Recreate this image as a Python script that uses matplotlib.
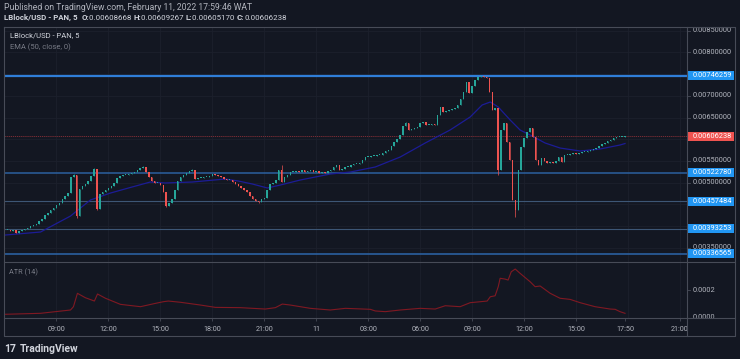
import numpy as np
import matplotlib
matplotlib.use('Agg')
import matplotlib.pyplot as plt
import matplotlib.transforms as mtransforms
from matplotlib.lines import Line2D
from matplotlib.patches import Rectangle

plt.rcParams['font.family'] = ['Roboto', 'DejaVu Sans']

#
#   data (prices in units of 1e-5 USD, 10 min bars from Feb 10 06:00)
#
close = [
    390.8, 390.8, 388.5, 390.8, 383.9, 388.5, 390.8, 393.1, 395.4, 400.0,
    402.3, 404.6, 411.5, 416.1, 425.4, 430.0, 436.9, 441.5, 448.4, 453.0,
    462.2, 469.1, 476.0, 512.9, 517.5, 423.1, 485.3, 492.2, 496.8, 503.7,
    515.2, 531.4, 439.2, 473.7, 478.3, 483.0, 487.6, 492.2, 499.1, 510.6,
    515.2, 517.5, 517.5, 519.8, 522.1, 524.4, 529.1, 533.7, 536.0, 524.4,
    512.9, 503.7, 499.1, 499.1, 494.5, 478.3, 446.1, 453.0, 462.2, 483.0,
    503.7, 512.9, 517.5, 522.1, 526.7, 529.1, 508.3, 510.6, 510.6, 512.9,
    512.9, 515.2, 519.8, 517.5, 515.2, 512.9, 508.3, 506.0, 506.0, 501.4,
    496.8, 492.2, 487.6, 483.0, 478.3, 469.1, 462.2, 457.6, 455.3, 462.2,
    464.5, 483.0, 496.8, 499.1, 506.0, 529.1, 501.4, 512.9, 517.5, 524.4,
    524.4, 526.7, 524.4, 529.1, 524.4, 526.7, 529.1, 524.4, 526.7, 522.1,
    524.4, 522.1, 526.7, 529.1, 536.0, 540.6, 529.1, 531.4, 536.0, 536.0,
    540.6, 542.9, 542.9, 545.2, 552.1, 559.0, 559.0, 561.3, 561.3, 563.6,
    563.6, 568.2, 572.8, 575.1, 584.3, 593.5, 600.5, 609.7, 630.4, 637.3,
    621.2, 623.5, 625.8, 628.1, 637.3, 639.6, 632.7, 632.7, 635.0, 632.7,
    655.7, 674.2, 662.7, 665.0, 667.3, 669.6, 671.9, 678.8, 692.6, 708.9,
    731.8, 706.5, 722.6, 736.4, 743.3, 745.0, 744.0, 741.0, 708.9, 667.3,
    671.9, 529.1, 621.2, 637.3, 593.5, 552.1, 459.9, 436.9, 530.0, 582.0,
    602.8, 616.6, 625.8, 605.1, 552.1, 540.6, 556.7, 549.8, 545.2, 547.5,
    545.2, 549.8, 559.0, 547.5, 563.6, 563.6, 565.9, 568.2, 565.9, 568.2,
    570.5, 570.5, 572.8, 575.1, 577.4, 579.7, 584.3, 588.9, 591.2, 595.8,
    598.2, 602.8, 605.1, 605.1, 605.1, 606.238,
]
first_open = 391.0
# visible wicks (bar index: price)
wick_hi = {24: 519.5, 31: 533.5, 48: 538.0, 65: 531.0, 96: 540.6, 139: 639.5,
           166: 746.259, 183: 626.5}
wick_lo = {4: 383.0, 25: 418.5, 32: 437.0, 56: 444.0, 88: 452.5, 171: 517.5,
           177: 421.0}

# EMA(50) line (hours, 1e-5)
ema_t = [6.06, 8.08, 9.81, 10.96, 12.12, 13.16, 14.42, 15.29, 16.85, 18.75,
         19.50, 20.31, 21.18, 21.93, 23.08, 24.81, 25.97, 27.41, 28.85, 30.29,
         31.73, 32.89, 33.58, 34.05, 34.51, 35.20, 35.77, 36.35, 37.22, 38.08,
         39.24, 40.39, 41.54, 41.83]
ema_v = [379.3, 386.2, 423.0, 459.9, 476.0, 487.6, 501.4, 499.1, 501.4, 508.3,
         503.7, 496.8, 487.6, 494.5, 506.0, 519.8, 524.4, 536.0, 559.0, 591.2,
         621.2, 651.2, 678.8, 685.7, 674.2, 644.2, 621.2, 609.7, 591.2, 579.7,
         572.8, 577.4, 586.6, 590.0]

levels = [0.00746259, 0.00522780, 0.00457484, 0.00393253, 0.00336565]
last_price = 0.00606238

# ATR(14), hours after Feb 10 00:00 and values in 1e-5
atr_t = [6.06, 8.08, 9.81, 9.98, 10.21, 10.67, 11.19, 11.37, 11.83, 12.69,
         13.85, 14.71, 15.17, 15.46, 16.16, 17.31, 18.18, 19.62, 21.06, 21.64,
         22.04, 22.50, 23.66, 24.81, 25.68, 27.12, 27.41, 27.99, 28.85, 30.00,
         30.87, 31.45, 32.31, 32.89, 33.47, 33.87, 34.05, 34.33, 34.51, 34.62,
         34.91, 35.08, 35.26, 35.49, 35.77, 36.35, 36.64, 36.93, 37.51, 38.08,
         38.66, 39.24, 40.10, 40.97, 41.26, 41.54, 41.83]
atr_v = [2.5, 3.2, 5.6, 8.0, 17.7, 14.5, 12.1, 17.2, 14.1, 9.7,
         8.0, 10.4, 11.6, 12.1, 11.2, 9.2, 7.5, 7.3, 6.3, 7.3,
         9.9, 9.2, 6.8, 5.6, 6.8, 6.1, 4.9, 4.4, 5.6, 6.8,
         6.3, 8.7, 8.0, 10.9, 11.6, 12.1, 15.2, 15.9, 22.5, 28.6,
         28.0, 27.3, 33.3, 35.3, 32.2, 26.1, 22.5, 23.0, 17.7, 14.1,
         13.3, 10.9, 8.0, 6.3, 6.1, 4.4, 3.2]

time_ticks = [9, 12, 15, 18, 21, 24, 27, 30, 33, 36, 39, 41.83, 45]
time_labels = ['09:00', '12:00', '15:00', '18:00', '21:00', '11', '03:00',
               '06:00', '09:00', '12:00', '15:00', '17:50', '21:00']
price_grid = [0.0035, 0.0040, 0.0045, 0.0050, 0.0055, 0.0060, 0.0065,
              0.0070, 0.0075, 0.0080, 0.0085]
# the others sit under the level boxes
price_labels = [0.0035, 0.0050, 0.0055, 0.0065, 0.0070, 0.0080, 0.0085]

#
#   colours
#
BG = '#131722'
GRID = '#1c202c'
FRAME = '#474b57'
TXT = '#b2b5be'
UP = '#26a69a'
DN = '#ef5350'
BOX = '#2196f3'

c = np.array(close) * 1e-5
o = np.concatenate([[first_open * 1e-5], c[:-1]])
hi = np.maximum(o, c)
lo = np.minimum(o, c)
for k, v in wick_hi.items():
    hi[k] = v * 1e-5
for k, v in wick_lo.items():
    lo[k] = v * 1e-5
t = 6.0 + np.arange(len(c)) / 6.0

W, H = 740, 359
def fx(px):
    return px / W
def fy(py):
    return 1 - py / H

fig = plt.figure(figsize=(7.4, 3.59), dpi=100, facecolor=BG)
ax = fig.add_axes([fx(4), fy(262), fx(687) - fx(4), fy(27) - fy(262)])
ax2 = fig.add_axes([fx(4), fy(318), fx(687) - fx(4), fy(262) - fy(318)], sharex=ax)
axc = fig.add_axes([fx(687), fy(336), fx(735) - fx(687), fy(27) - fy(336)])
axc.set_zorder(5)

for a in (ax, ax2, axc):
    a.set_facecolor(BG)
    for s in a.spines.values():
        s.set_visible(False)
axc.set_xticks([])
axc.set_yticks([])
axc.set_xlim(0, 1)
axc.set_ylim(0, 1)

# main pane
ax.set_xlim(5.97, 45.41)
ax.set_ylim(0.003171, 0.008585)
ax.set_yticks([])
ax.tick_params(axis='x', bottom=False, labelbottom=False)
for x in range(9, 46, 3):
    ax.axvline(x, color=GRID, lw=0.6, zorder=0)
    ax2.axvline(x, color=GRID, lw=0.6, zorder=0)
for p in price_grid:
    ax.axhline(p, color=GRID, lw=0.6, zorder=0)

ax.axhline(levels[0], color='#2f7ed8', lw=1.6, zorder=1)
ax.axhline(levels[1], color='#2b609f', lw=1.1, zorder=1)
ax.axhline(levels[2], color='#3d5675', lw=0.8, zorder=1)
ax.axhline(levels[3], color='#3d5675', lw=0.8, zorder=1)
ax.axhline(levels[4], color='#2b609f', lw=1.2, zorder=1)
ax.axhline(last_price, color='#8a3038', lw=0.6, ls=(0, (1.5, 1)), zorder=1)

cols = np.where(c >= o, UP, DN)
ax.vlines(t, lo, hi, colors=cols, lw=0.5, zorder=3)
body_h = np.maximum(np.abs(c - o), 0.000012)
ax.bar(t, body_h, bottom=np.minimum(o, c), width=0.085, color=cols, lw=0, zorder=3)
ax.plot(ema_t, np.array(ema_v) * 1e-5, color='#1c1c96', lw=0.9, zorder=2)

# ATR pane
ax2.set_ylim(-0.000002, 0.000404)
ax2.set_yticks([])
ax2.plot(atr_t, np.array(atr_v) * 1e-5, color='#801922', lw=0.8)
ax2.set_xticks(time_ticks)
ax2.set_xticklabels(time_labels)
ax2.tick_params(axis='x', colors=FRAME, labelcolor=TXT, labelsize=5.2,
                length=2.5, width=0.6, pad=3)

# price column
tr = mtransforms.blended_transform_factory(axc.transAxes, ax.transData)
tr2 = mtransforms.blended_transform_factory(axc.transAxes, ax2.transData)
for p in price_labels:
    axc.plot([0.0, 0.06], [p, p], color=FRAME, lw=0.6, transform=tr, clip_on=False)
    axc.text(0.11, p, '%.8f' % p, transform=tr, color=TXT, fontsize=5.3,
             va='center', ha='left')
for p in [0.0, 0.0002]:
    axc.plot([0.0, 0.06], [p, p], color=FRAME, lw=0.6, transform=tr2, clip_on=False)
    axc.text(0.11, p, '%.4f' % p, transform=tr2, color=TXT, fontsize=5.3,
             va='center', ha='left')
axc.add_patch(Rectangle((0, 0), 1, (fy(318) - fy(336)) / (fy(27) - fy(336)),
                        transform=axc.transAxes, facecolor=BG, lw=0, zorder=4))

hbox = 0.000104
for p in levels + [last_price]:
    fc = DN if p == last_price else BOX
    axc.add_patch(Rectangle((0.02, p - hbox), 0.96, 2 * hbox, transform=tr,
                            facecolor=fc, lw=0, zorder=5))
    axc.text(0.11, p, '%.8f' % p, transform=tr, color='white', fontsize=5.3,
             va='center', ha='left', zorder=6)

# frame
def fline(xs, ys):
    fig.add_artist(Line2D([fx(v) for v in xs], [fy(v) for v in ys],
                          transform=fig.transFigure, color=FRAME, lw=0.8, zorder=10))
fline([4, 735, 735, 4, 4], [27, 27, 336, 336, 27])
fline([4, 735], [262, 262])
fline([4, 735], [318, 318])
fline([687, 687], [27, 336])

# texts
fig.text(fx(4), fy(9.5), 'Published on TradingView.com, February 11, 2022 17:59:46 WAT',
         color=TXT, fontsize=6.2, va='baseline')
renderer = fig.canvas.get_renderer()
xpos = fx(4)
parts = [('LBlock/USD - PAN, 5  ', 'bold'), ('O:', 'bold'), ('0.00608668 ', 'normal'),
         ('H:', 'bold'), ('0.00609267 ', 'normal'), ('L:', 'bold'),
         ('0.00605170 ', 'normal'), ('C:', 'bold'), ('0.00606238', 'normal')]
for s, w in parts:
    tx = fig.text(xpos, fy(20), s, color='#d1d4dc', fontsize=5.7, fontweight=w,
                  va='baseline')
    bb = tx.get_window_extent(renderer)
    xpos = bb.x1 / fig.bbox.width

fig.text(fx(10), fy(37.5), 'LBlock/USD - PAN, 5', color='#d1d4dc', fontsize=5.5,
         va='baseline', zorder=11)
fig.text(fx(10), fy(49.5), 'EMA (50, close, 0)', color='#787b86', fontsize=5.5,
         va='baseline', zorder=11)
fig.text(fx(9), fy(274.5), 'ATR (14)', color='#787b86', fontsize=5.3,
         va='baseline', zorder=11)

fig.text(fx(4), fy(352), '17', color='#d1d4dc', fontsize=7.5, fontweight='bold',
         va='baseline')
fig.text(fx(20), fy(352), 'TradingView', color='#d1d4dc', fontsize=7.5,
         fontweight='bold', va='baseline')

fig.savefig('out.png', dpi=100, facecolor=BG)
